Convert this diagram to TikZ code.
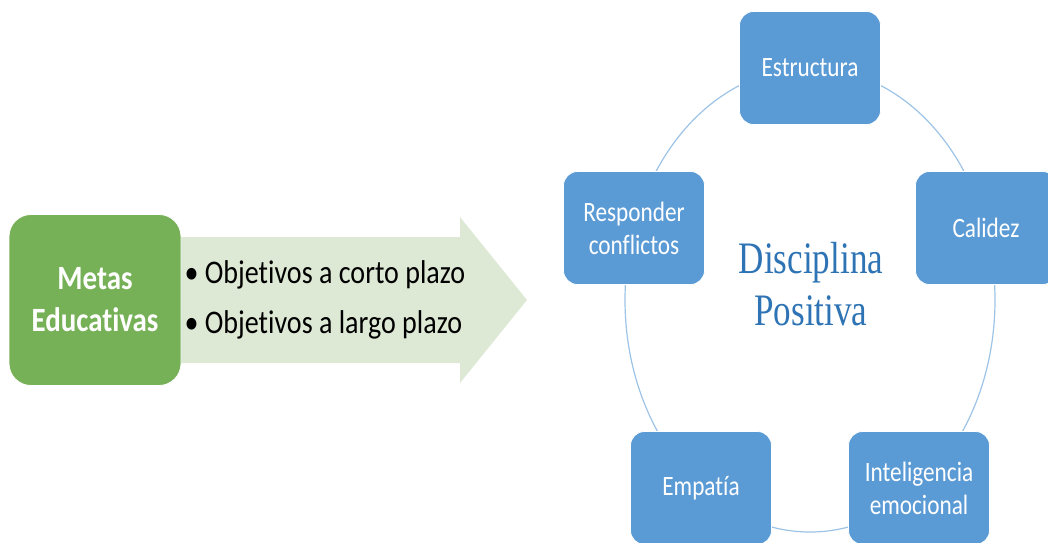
\documentclass[tikz,border=0pt]{standalone}
\usepackage{fontspec}
\newfontfamily\boxfont[FakeStretch=0.83, Ligatures=NoCommon]{Carlito}
\newfontfamily\goalfont[FakeStretch=0.85, Ligatures=NoCommon]{Carlito}
\newfontfamily\titlefont[FakeStretch=0.78]{Liberation Serif}
\usepackage{tikz}
\usetikzlibrary{positioning, calc}

\definecolor{boxblue}{HTML}{5B9BD5}
\definecolor{ringblue}{HTML}{9DC3E6}
\definecolor{titleblue}{HTML}{2E74B5}
\definecolor{goalgreen}{HTML}{77B157}
\definecolor{arrowgreen}{HTML}{DDE9D5}

\begin{document}
\begin{tikzpicture}[x=1pt,y=-1pt]
      \tikzset{blue box/.style={fill=boxblue,
          draw=white, line width=0.8pt,
          rounded corners=14pt,
          minimum width=141pt,
          minimum height=113pt,
          inner sep=2pt,
          align=center,
          text=white,
          font=\boxfont\fontsize{28}{33}\selectfont}
      }
      \useasboundingbox (0,0) rectangle (1048,542);
      \clip (0,0) rectangle (1048,542);

      % left part: goals
      \fill [arrowgreen] (150,237) -- (460,237) -- (460,217) -- (527,300)
            -- (460,383) -- (460,363) -- (150,363) -- cycle;
      \node [fill=goalgreen, draw=white, line width=0.8pt, rounded corners=22pt,
             minimum width=172pt, minimum height=171pt, align=center, text=white,
             font=\goalfont\bfseries\fontsize{34}{42}\selectfont] (metas) at (95,300)
            {Metas\\Educativas};
      \node [right=0pt of metas, align=left, inner sep=3pt,
             font=\goalfont\fontsize{33}{50}\selectfont] (goals)
            {\textbullet\ Objetivos a corto plazo\\\textbullet\ Objetivos a largo plazo};

      % right part: cycle
      \coordinate (C) at (810,300);
      \draw [ringblue, line width=1.2pt] (C) ellipse [x radius=185pt, y radius=232pt];
      \node [blue box] (estructura) at ($(C)+(0,-232)$) {Estructura};
      \node [blue box] (calidez) at ($(C)+(176,-72)$) {Calidez};
      \node [blue box] (inteligencia) at ($(C)+(109,188)$) {Inteligencia\\emocional};
      \node [blue box] (empatia) at ($(C)+(-109,188)$) {Empatía};
      \node [blue box] (responder) at ($(C)+(-176,-72)$) {Responder\\conflictos};
      \node [align=center, text=titleblue,
             font=\titlefont\fontsize{45}{52}\selectfont] (titulo) at (811,284)
            {Disciplina\\Positiva};

    \end{tikzpicture}
\end{document}
